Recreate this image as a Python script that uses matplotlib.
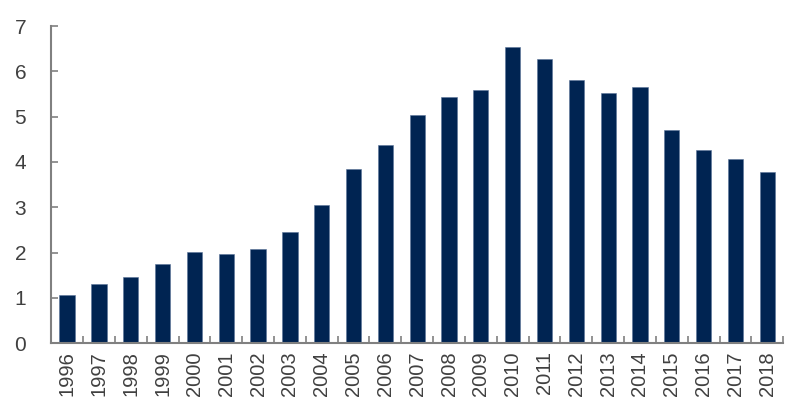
import matplotlib
matplotlib.use("Agg")
import matplotlib.pyplot as plt
import numpy as np

years = [str(y) for y in range(1996, 2019)]
values = [1.06, 1.31, 1.46, 1.75, 2.02, 1.97, 2.08, 2.46, 3.06, 3.84, 4.37, 5.03,
          5.43, 5.59, 6.54, 6.27, 5.81, 5.52, 5.65, 4.70, 4.26, 4.06, 3.77]
yticks = [0, 1, 2, 3, 4, 5, 6, 7]

plt.rcParams['font.family'] = ['Liberation Sans', 'DejaVu Sans']

fig = plt.figure(figsize=(8, 4.2), dpi=100)
ax = fig.add_axes([0.064, 0.183, 0.915, 0.755])

x = np.arange(len(years))
ax.bar(x, values, width=0.48, color='#002452', edgecolor='#5a7399', linewidth=0.4, zorder=2)

ax.set_xlim(-0.5, len(years) - 0.5)
ax.set_ylim(0, 7)
ax.set_yticks(yticks)
ax.set_yticklabels([str(v) for v in yticks], fontsize=15, color='#404040')

ax.set_xticks(x)
ax.set_xticklabels(years, rotation=90, fontsize=14.5, color='#404040')
ax.tick_params(axis='x', which='major', length=0, pad=6)
ax.set_xticks(np.arange(-0.5, len(years)), minor=True)
ax.tick_params(axis='x', which='minor', direction='in', length=5, width=1.2, color='#808080')
ax.tick_params(axis='y', direction='in', length=5, width=1.2, color='#808080', pad=18)

for s in ['top', 'right']:
    ax.spines[s].set_visible(False)
for s in ['left', 'bottom']:
    ax.spines[s].set_color('#808080')
    ax.spines[s].set_linewidth(1.5)

fig.savefig('out.png', dpi=100)
